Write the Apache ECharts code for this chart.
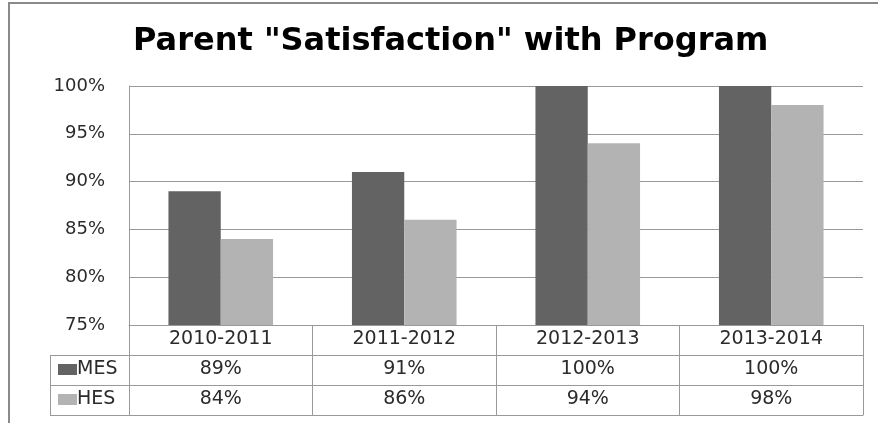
<!DOCTYPE html>
<html>
<head>
<meta charset="utf-8">
<script src="https://cdn.jsdelivr.net/npm/echarts@6/dist/echarts.min.js"></script>
<style>
  html, body { margin: 0; padding: 0; background: #fff; }
  #chart { width: 878px; height: 423px; }
</style>
</head>
<body>
<div id="chart"></div>
<script>
// School years and satisfaction rates (percent) per school
const categories = ['2010-2011', '2011-2012', '2012-2013', '2013-2014'];
const seriesNames = ['MES', 'HES'];
const mesValues = [89, 91, 100, 100];
const hesValues = [84, 86, 94, 98];
const yMin = 75, yMax = 100, yStep = 5;

// Layout
const W = 878, H = 423;
const gridLeft = 129, gridTop = 86, gridRight = 15, gridBottom = 98;
const rowH = 30;
const keyColLeft = 50;
const FONT = 'DejaVu Sans';
const lineColor = '#999999';
const textColor = '#2b2b2b';
const tableFont = 19;

const axisY = H - gridBottom; // bottom of the plot area

function tableAxis(offset, formatter) {
  return {
    type: 'category',
    gridIndex: 0,
    data: categories,
    position: 'bottom',
    offset: offset,
    axisLine: { show: true, lineStyle: { color: lineColor, width: 1 } },
    axisTick: { show: false },
    axisLabel: formatter ? {
      show: true, interval: 0, margin: 5,
      color: textColor, fontFamily: FONT, fontSize: tableFont,
      formatter: formatter
    } : { show: false },
    splitLine: { show: false }
  };
}

function keyLegend(name, row) {
  return {
    data: [name], left: 58, top: axisY + rowH * row + 5,
    itemWidth: 19, itemHeight: 11, selectedMode: false,
    icon: 'rect', padding: 0,
    textStyle: { fontFamily: FONT, fontSize: tableFont, color: textColor, padding: [0, 0, 0, -5] }
  };
}

const chart = echarts.init(document.getElementById('chart'), null, { renderer: 'canvas' });

const option = {
  backgroundColor: '#fff',
  animation: false,
  title: {
    text: 'Parent "Satisfaction" with Program',
    left: 128,
    top: 21,
    textStyle: { fontFamily: FONT, fontSize: 32, fontWeight: 'bold', color: '#000' }
  },
  legend: [keyLegend(seriesNames[0], 1), keyLegend(seriesNames[1], 2)],
  grid: { left: gridLeft, top: gridTop, right: gridRight, bottom: gridBottom, containLabel: false },
  xAxis: [
    {
      type: 'category',
      gridIndex: 0,
      data: categories,
      position: 'bottom',
      axisLine: { show: true, lineStyle: { color: lineColor, width: 1 } },
      axisTick: {
        show: true, interval: 0, alignWithLabel: false, inside: false,
        length: rowH * 3, lineStyle: { color: lineColor, width: 1 }
      },
      axisLabel: {
        interval: 0, margin: 5, color: textColor, fontFamily: FONT, fontSize: tableFont
      },
      splitLine: { show: false }
    },
    tableAxis(rowH, (v, i) => mesValues[i] + '%'),
    tableAxis(rowH * 2, (v, i) => hesValues[i] + '%'),
    tableAxis(rowH * 3, null)
  ],
  yAxis: {
    type: 'value',
    min: yMin, max: yMax, interval: yStep,
    axisLine: { show: true, lineStyle: { color: lineColor, width: 1 } },
    axisTick: { show: false },
    axisLabel: {
      margin: 24, color: textColor, fontFamily: FONT, fontSize: 18,
      formatter: '{value}%'
    },
    splitLine: { show: true, lineStyle: { color: lineColor, width: 1 } }
  },
  series: [
    {
      name: seriesNames[0], type: 'bar', data: mesValues,
      barGap: '0%', barCategoryGap: '43%',
      itemStyle: { color: '#636363' }
    },
    {
      name: seriesNames[1], type: 'bar', data: hesValues,
      barGap: '0%', barCategoryGap: '43%',
      itemStyle: { color: '#b3b3b3' }
    }
  ],
  graphic: [
    // chart frame
    {
      type: 'rect', silent: true, z: -1,
      shape: { x: 9, y: 3, width: W + 40, height: H + 40 },
      style: { fill: null, stroke: '#8a8a8a', lineWidth: 2 }
    },
    // series-key column of the data table
    {
      type: 'line', silent: true,
      shape: { x1: keyColLeft + 0.5, y1: axisY + rowH, x2: keyColLeft + 0.5, y2: axisY + rowH * 3 },
      style: { stroke: lineColor, lineWidth: 1 }
    },
    ...[1, 2, 3].map(r => ({
      type: 'line', silent: true,
      shape: { x1: keyColLeft, y1: axisY + rowH * r + 0.5, x2: gridLeft, y2: axisY + rowH * r + 0.5 },
      style: { stroke: lineColor, lineWidth: 1 }
    }))
  ]
};

chart.setOption(option);
</script>
</body>
</html>
